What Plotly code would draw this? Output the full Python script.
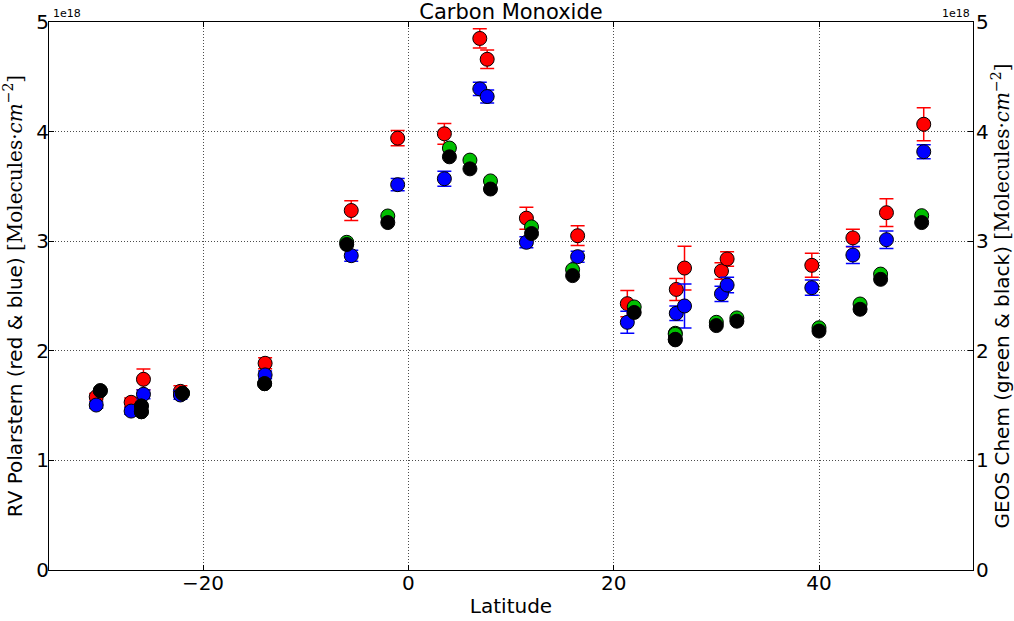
import plotly.graph_objects as go

# Ship-based observations (RV Polarstern), columns in units of 1e18 molecules/cm^2
obs_lat = [-30.4, -27.0, -25.8, -22.2, -13.95, -5.56, -1.04, 3.51, 6.96, 7.68, 11.5,
           16.49, 21.33, 26.1, 26.9, 30.5, 31.05, 39.3, 43.3, 46.57, 50.2]
red_co = [1.58, 1.53, 1.74, 1.63, 1.886, 3.28, 3.94, 3.98, 4.85, 4.66, 3.21,
          3.05, 2.43, 2.56, 2.755, 2.728, 2.838, 2.78, 3.03, 3.26, 4.067]
red_err = [0.03, 0.04, 0.095, 0.05, 0.05, 0.09, 0.07, 0.095, 0.088, 0.084, 0.10,
           0.09, 0.12, 0.10, 0.20, 0.075, 0.066, 0.11, 0.08, 0.127, 0.15]
blue_co = [1.505, 1.45, 1.603, 1.597, 1.78, 2.868, 3.516, 3.57, 4.39, 4.32, 2.99,
           2.859, 2.26, 2.342, 2.409, 2.52, 2.60, 2.576, 2.874, 3.014, 3.817]
blue_err = [0.03, 0.03, 0.04, 0.04, 0.035, 0.05, 0.055, 0.068, 0.06, 0.06, 0.05,
            0.05, 0.10, 0.066, 0.20, 0.07, 0.07, 0.07, 0.078, 0.08, 0.064]

# GEOS-Chem model columns on its 2-degree latitude grid
model_lat = [-30, -26, -26, -22, -14, -6, -2, 4, 6, 8, 12,
             16, 22, 26, 26, 30, 32, 40, 44, 46, 50]
green_co = [1.636, 1.496, 1.444, 1.612, 1.70, 2.99, 3.23, 3.85, 3.74, 3.55, 3.13,
            2.74, 2.40, 2.16, 2.15, 2.26, 2.30, 2.21, 2.427, 2.70, 3.233]
black_co = [1.636, 1.496, 1.444, 1.612, 1.70, 2.97, 3.17, 3.77, 3.66, 3.476, 3.07,
            2.686, 2.35, 2.105, 2.10, 2.23, 2.27, 2.18, 2.379, 2.652, 3.17]

x_ticks = [-20, 0, 20, 40]
y_ticks = [0, 1, 2, 3, 4, 5]

FONT = "DejaVu Sans"
MSIZE = 14
GRID = dict(showgrid=True, gridcolor="rgba(0,0,0,0.7)", griddash="1px,2px", gridwidth=1)


def obs_trace(y, err, color):
    return go.Scatter(
        x=obs_lat, y=y, mode="markers", yaxis="y",
        marker=dict(size=MSIZE, color=color, line=dict(color="black", width=1)),
        error_y=dict(type="data", array=err, visible=True, color=color,
                     thickness=1.5, width=7),
        showlegend=False,
    )


def model_trace(y, color):
    return go.Scatter(
        x=model_lat, y=y, mode="markers", yaxis="y2",
        marker=dict(size=MSIZE, color=color, line=dict(color="black", width=1)),
        showlegend=False,
    )


fig = go.Figure()
fig.add_trace(obs_trace(red_co, red_err, "#ff0000"))
fig.add_trace(obs_trace(blue_co, blue_err, "#0000ff"))
fig.add_trace(model_trace(green_co, "#00bf00"))
fig.add_trace(model_trace(black_co, "#000000"))

unit = ("<span style='font-family:DejaVu Serif'>[Molecules\u00b7<i>cm</i>"
        "<sup>\u22122</sup>]</span>")

axis_common = dict(
    showline=True, linecolor="black", linewidth=1,
    ticks="inside", ticklen=5, tickcolor="black", tickwidth=1,
    tickfont=dict(family=FONT, size=20, color="black"),
    zeroline=False, automargin=False,
)

fig.update_layout(
    width=1014, height=621,
    margin=dict(l=49, r=41, t=22, b=51),
    paper_bgcolor="white", plot_bgcolor="white",
    font=dict(family=FONT, color="black"),
    title=dict(text="Carbon Monoxide", x=0.5, xanchor="center", xref="paper",
               y=1, yref="paper", yanchor="bottom", pad=dict(b=3),
               font=dict(family=FONT, size=21, color="black")),
    xaxis=dict(
        range=[-35, 55], tickvals=x_ticks, mirror="ticks", ticklabelstandoff=-5,
        title=dict(text="Latitude", font=dict(family=FONT, size=20), standoff=4),
        **GRID, **axis_common,
    ),
    yaxis=dict(
        range=[0, 5], tickvals=y_ticks, side="left", ticklabelstandoff=-5,
        title=dict(text="RV Polarstern (red & blue) " + unit,
                   font=dict(family=FONT, size=20), standoff=8),
        **GRID, **axis_common,
    ),
    yaxis2=dict(
        range=[0, 5], tickvals=y_ticks, side="right", overlaying="y",
        showgrid=False, ticklabelstandoff=-2,
        title=dict(text="GEOS Chem (green & black) " + unit,
                   font=dict(family=FONT, size=20), standoff=6),
        **axis_common,
    ),
    annotations=[
        dict(text="1e18", x=0, y=1, xref="paper", yref="paper",
             xanchor="left", yanchor="bottom", xshift=2, yshift=0, showarrow=False,
             font=dict(family=FONT, size=11, color="black")),
        dict(text="1e18", x=1, y=1, xref="paper", yref="paper",
             xanchor="right", yanchor="bottom", xshift=-1, yshift=0, showarrow=False,
             font=dict(family=FONT, size=11, color="black")),
    ],
)

fig.write_html("out.html")
